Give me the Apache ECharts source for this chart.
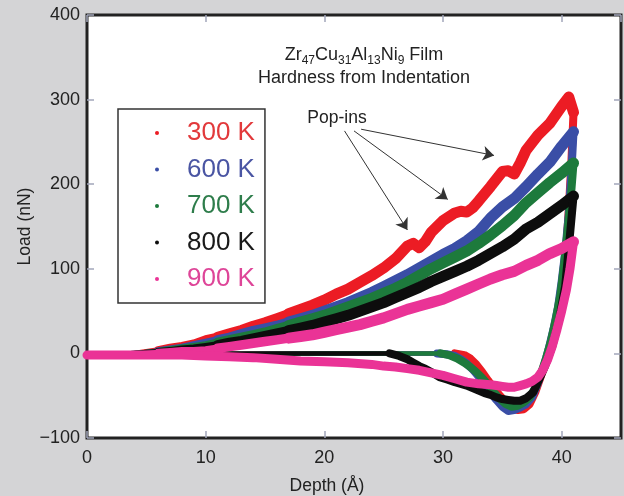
<!DOCTYPE html>
<html>
<head>
<meta charset="utf-8">
<script src="https://cdn.jsdelivr.net/npm/echarts@6/dist/echarts.min.js"></script>
<style>
html,body{margin:0;padding:0;background:#d4d4d6;}
#chart{width:624px;height:496px;}
</style>
</head>
<body>
<div id="chart"></div>
<script>
// ---- Data (depth in Å, load in nN) ----
const seriesNames = ['300 K', '600 K', '700 K', '800 K', '900 K'];
const xTicks = [0, 10, 20, 30, 40];
const yTicks = [-100, 0, 100, 200, 300, 400];

// loading branches
const load300 = [[0,-3],[1,-3],[2,-2],[3,-1],[4,0],[5,2],[6,4],[7,7],[8,9],[9,12],[10,17],[11,20],[12,24],[13,28],[14,33],[15,37],[16,42],[17,47],[18,52],[19,57],[20,63],[21,70],[22,76],[23,84],[24,92],[25,101],[26,112],[27,127],[27.5,130],[28,125],[28.5,132],[29,143],[30,157],[31,166],[31.5,168],[32,167],[32.5,172],[33,180],[34,197],[35,215],[35.5,216],[36,212],[36.5,225],[37,240],[38,258],[39,272],[40,292],[40.6,303],[41,285]];
const load600 = [[0,-3],[1,-3],[2,-2],[3,-1],[4,0],[5,1],[6,3],[7,5],[8,7],[9,10],[10,13],[11,16],[12,19],[13,23],[14,27],[15,30],[16,33],[17,37],[18,41],[19,45],[20,50],[21,55],[22,60],[23,66],[24,72],[25,79],[26,86],[27,93],[28,101],[29,109],[30,117],[31,124],[32,133],[33,144],[34,160],[35,173],[36,183],[37,197],[38,212],[39,226],[40,245],[41,262]];
const load700 = [[0,-3],[1,-3],[2,-2],[3,-1],[4,0],[5,1],[6,2],[7,4],[8,6],[9,8],[10,10],[11,13],[12,16],[13,19],[14,22],[15,25],[16,29],[17,33],[18,37],[19,41],[20,45],[21,50],[22,55],[23,60],[24,65],[25,71],[26,77],[27,84],[28,92],[29,100],[30,107],[31,114],[32,121],[33,130],[34,140],[35,151],[36,163],[37,178],[38,190],[39,202],[40,213],[41,225]];
const load800 = [[0,-3],[1,-3],[2,-2],[3,-1],[4,0],[5,1],[6,2],[7,3],[8,5],[9,6],[10,8],[11,10],[12,13],[13,15],[14,18],[15,21],[16,24],[17,27],[18,30],[19,33],[20,37],[21,41],[22,45],[23,50],[24,55],[25,60],[26,66],[27,72],[28,78],[29,85],[30,91],[31,97],[32,103],[33,110],[34,118],[35,126],[36,135],[37,147],[38,155],[39,165],[40,175],[41,186]];
const load900 = [[0,-3],[1,-3],[2,-2],[3,-2],[4,-1],[5,0],[6,1],[7,2],[8,3],[9,3],[10,4],[11,6],[12,8],[13,10],[14,12],[15,14],[16,16],[17,18],[18,20],[19,22],[20,25],[21,28],[22,31],[23,34],[24,38],[25,42],[26,47],[27,52],[28,56],[29,60],[30,64],[31,70],[32,76],[33,82],[34,88],[35,93],[36,97],[37,104],[38,110],[39,118],[40,124],[41,132]];

// unloading branches (from max depth back to zero load)
const unload300 = [[41,285],[40.8,220],[40.6,170],[40.4,125],[40.1,85],[39.8,55],[39.5,30],[39.1,10],[38.7,-8],[38.3,-25],[37.8,-45],[37.3,-60],[36.8,-66],[36.3,-67],[35.8,-64],[35.3,-58],[34.8,-50],[34.3,-41],[33.8,-32],[33.3,-22],[32.8,-13],[32.3,-6],[31.8,-2],[31,0]];
const unload600 = [[41,262],[40.8,210],[40.6,165],[40.3,120],[40,85],[39.7,55],[39.3,28],[38.9,5],[38.5,-15],[38,-35],[37.5,-52],[37,-60],[36.5,-64],[36,-67],[35.5,-68],[35,-63],[34.5,-55],[34,-46],[33.5,-36],[33,-27],[32.5,-19],[32,-12],[31.5,-7],[31,-3],[30.3,-1],[29.5,0]];
const unload700 = [[41,225],[40.8,190],[40.5,145],[40.2,105],[39.9,70],[39.5,40],[39.1,15],[38.7,-5],[38.3,-22],[37.8,-40],[37.3,-52],[36.8,-58],[36.3,-62],[35.8,-63],[35.3,-60],[34.8,-54],[34.3,-46],[33.8,-37],[33.3,-29],[32.8,-22],[32.3,-16],[31.8,-11],[31.2,-6],[30.5,-2],[29.8,0]];
const unload800 = [[41,186],[40.7,140],[40.3,80],[39.8,40],[39.2,8],[38.6,-15],[38.1,-31],[37.6,-46],[37,-53],[36.5,-56],[36,-56],[35.5,-55],[35,-54],[34.5,-52],[34,-49],[33.5,-47],[33,-44],[32.5,-41],[32,-38],[31.5,-36],[31,-34],[30.4,-31],[29.7,-28],[29,-22],[28.5,-18],[28,-15],[27.5,-11],[27,-7],[26.3,-3],[25.5,0]];
const unload900 = [[41,132],[40.7,100],[40.4,75],[40,50],[39.6,28],[39.2,8],[38.8,-8],[38.4,-20],[38,-28],[37.5,-33],[37,-36],[36.5,-38],[36,-40],[35.5,-40],[35,-39],[34.5,-38],[34,-37],[33,-36],[32,-34],[31,-30],[30,-26],[29,-23],[28,-20],[27,-18],[26,-16],[25,-15],[24,-13],[22,-11],[20,-10],[18,-9],[16,-7],[14,-5],[12,-4],[10,-3],[8,-2],[5,-2],[0,-2]];

// retracted tip, zero-load tails
const tail300 = [[31,0],[20,0],[10,-1],[0,-2]];
const tail600 = [[29.5,0],[20,0],[10,-1],[0,-2]];
const tail700 = [[29.8,0],[20,0],[10,-1],[0,-2]];
const tail800 = [[25.5,0],[20,0],[10,0],[0,-1]];
const tail900 = [];

// Pop-in arrows: [start, end] in data coordinates
const popinArrows = [
  [[21.7, 263], [27.0, 146]],
  [[22.5, 263], [30.4, 182]],
  [[23.1, 265], [34.3, 234]]
];

const loads = [load300, load600, load700, load800, load900];
const unloads = [unload300, unload600, unload700, unload800, unload900];
const tails = [tail300, tail600, tail700, tail800, tail900];
const lineColors = ['#ec1c24', '#3a4ea6', '#1d7a3c', '#0d0d0d', '#ea3396'];
const textColors = ['#e2393b', '#4a55a3', '#2e7d4b', '#1a1a1a', '#de4598'];

const REG = '"Liberation Sans", Arial, Helvetica, sans-serif';

const chart = echarts.init(document.getElementById('chart'), null, {renderer: 'canvas'});

function lineSeries(name, data, color, width, z) {
  return {
    name: name, type: 'line', data: data, showSymbol: false, symbol: 'circle',
    lineStyle: {color: color, width: width, join: 'round', cap: 'round'},
    itemStyle: {color: color}, z: z, animation: false, silent: true
  };
}

// loading band gets thicker (noisier) with depth: [fromDepth, toDepth, width]
const loadPieces = [[0, 6, 5.5], [6, 11, 7.5], [11, 17, 9.5], [17, 41, 11]];

const series = [];
loads.forEach((d, i) => {
  const c = lineColors[i];
  series.push(lineSeries(seriesNames[i], tails[i], c, 4.5, 2 + i));
  loadPieces.forEach(pc => {
    series.push(lineSeries(seriesNames[i], d.filter(p => p[0] >= pc[0] && p[0] <= pc[1]), c, pc[2], 2 + i));
  });
  series.push(lineSeries(seriesNames[i], unloads[i], c, i === 4 ? 9 : 8, 2 + i));
});
series.push({
  type: 'line', data: [], silent: true, animation: false, z: 20,
  markLine: {
    silent: true, animation: false,
    symbol: ['none', 'arrow'], symbolSize: 11,
    lineStyle: {color: '#333', width: 1, type: 'solid'},
    itemStyle: {color: '#333'},
    label: {show: false},
    data: popinArrows.map(a => [{coord: a[0]}, {coord: a[1]}])
  }
});

const tickStyle = {show: true, inside: true, length: 7, lineStyle: {color: '#a3a7bb', width: 1.5}};
const noLine = {show: false, onZero: false};

const option = {
  backgroundColor: '#d4d4d6',
  animation: false,
  grid: {left: 87, right: 3, top: 15, bottom: 58, outerBoundsMode: 'none', containLabel: false,
    show: true, backgroundColor: '#ffffff', borderColor: '#222', borderWidth: 3},
  legend: {
    orient: 'vertical', left: 118, top: 109,
    padding: [11, 10, 11, 37], itemGap: 10.5, itemWidth: 4, itemHeight: 4,
    icon: 'circle', selectedMode: false,
    backgroundColor: '#ffffff', borderColor: '#333', borderWidth: 1.5,
    textStyle: {fontSize: 26, fontFamily: REG, lineHeight: 26, padding: [0, 0, 0, 23]},
    data: seriesNames.map((n, i) => ({name: n, itemStyle: {color: lineColors[i]}, textStyle: {color: textColors[i]}}))
  },
  xAxis: [{
    type: 'value', min: 0, max: 45, interval: 10, position: 'bottom',
    name: 'Depth (Å)', nameLocation: 'middle', nameGap: 39, nameMoveOverlap: false,
    nameTextStyle: {fontSize: 17.5, fontFamily: REG, color: '#222', padding: [0, 54, 0, 0]},
    axisLine: noLine, axisTick: tickStyle, splitLine: {show: false},
    axisLabel: {fontSize: 18, fontFamily: REG, color: '#222', margin: 11, showMaxLabel: false,
      formatter: v => (xTicks.indexOf(v) >= 0 ? String(v) : '')}
  }, {
    type: 'value', min: 0, max: 45, interval: 10, position: 'top',
    axisLine: noLine, axisTick: tickStyle, axisLabel: {show: false}, splitLine: {show: false}
  }],
  yAxis: [{
    type: 'value', min: -100, max: 400, interval: 100, position: 'left',
    name: 'Load (nN)', nameLocation: 'middle', nameGap: 53, nameMoveOverlap: false,
    nameTextStyle: {fontSize: 17.5, fontFamily: REG, color: '#222'},
    axisLine: noLine, axisTick: tickStyle, splitLine: {show: false},
    axisLabel: {fontSize: 18, fontFamily: REG, color: '#222', margin: 7,
      formatter: v => (yTicks.indexOf(v) >= 0 ? (v < 0 ? '\u2212' + Math.abs(v) : String(v)) : '')}
  }, {
    type: 'value', min: -100, max: 400, interval: 100, position: 'right',
    axisLine: noLine, axisTick: tickStyle, axisLabel: {show: false}, splitLine: {show: false}
  }],
  graphic: [
    {type: 'text', x: 364, y: 55, z: 100, silent: true,
     style: {text: 'Zr{s|47}Cu{s|31}Al{s|13}Ni{s|9} Film', align: 'center', verticalAlign: 'middle',
       fontSize: 18, fontFamily: REG, fill: '#222',
       rich: {s: {fontSize: 12, fontFamily: REG, fill: '#222', padding: [12, 0, 0, 0]}}}},
    {type: 'text', x: 364, y: 78, z: 100, silent: true,
     style: {text: 'Hardness from Indentation', align: 'center', verticalAlign: 'middle',
       fontSize: 18, fontFamily: REG, fill: '#222'}},
    {type: 'text', x: 337, y: 118, z: 100, silent: true,
     style: {text: 'Pop-ins', align: 'center', verticalAlign: 'middle',
       fontSize: 17.5, fontFamily: REG, fill: '#222'}}
  ],
  series: series
};
chart.setOption(option);
</script>
</body>
</html>
